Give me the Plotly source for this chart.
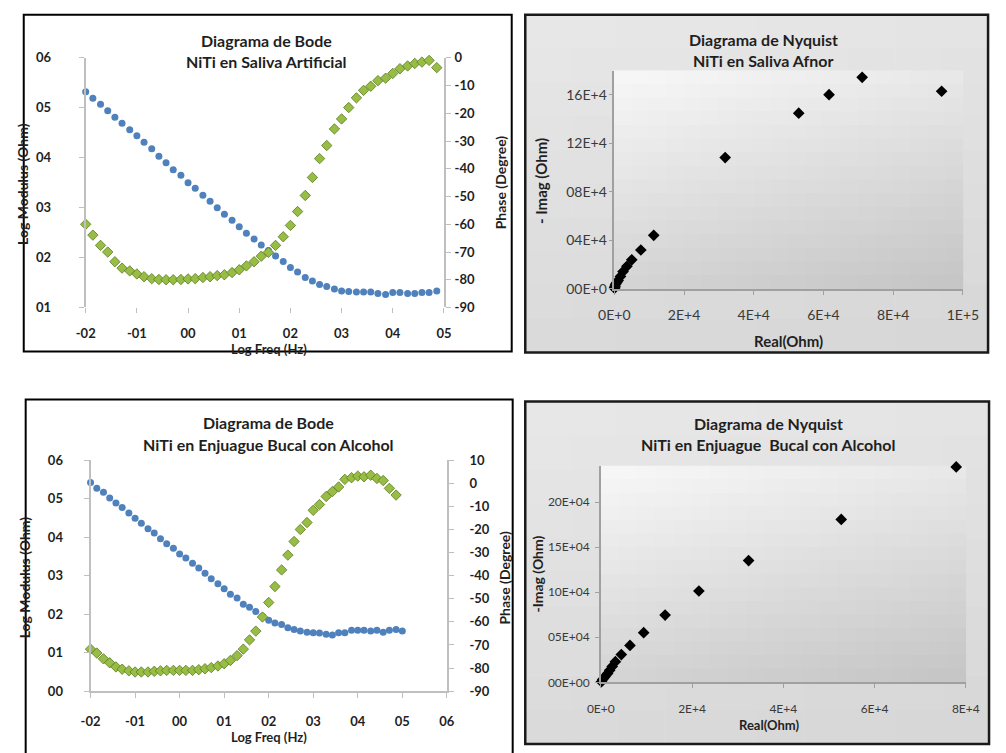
import plotly.graph_objects as go

W, H = 1006, 753


def px(x):
    return x / W


def py(y):
    return 1 - y / H


# ---------------- data ----------------
log_freq_saliva = [-2.00, -1.86, -1.71, -1.57, -1.43, -1.29, -1.14, -1.00, -0.86, -0.71,
                   -0.57, -0.43, -0.29, -0.14, 0.00, 0.14, 0.29, 0.43, 0.57, 0.71,
                   0.86, 1.00, 1.14, 1.29, 1.43, 1.57, 1.71, 1.86, 2.00, 2.14,
                   2.29, 2.43, 2.57, 2.71, 2.86, 3.00, 3.14, 3.29, 3.43, 3.57,
                   3.71, 3.86, 4.00, 4.14, 4.29, 4.43, 4.57, 4.71, 4.86]
log_mod_saliva = [5.32, 5.19, 5.07, 4.94, 4.81, 4.69, 4.56, 4.44, 4.31, 4.18,
                  4.03, 3.90, 3.76, 3.65, 3.50, 3.39, 3.25, 3.13, 3.00, 2.87,
                  2.75, 2.62, 2.49, 2.37, 2.25, 2.14, 2.03, 1.92, 1.80, 1.71,
                  1.60, 1.53, 1.46, 1.42, 1.37, 1.33, 1.32, 1.31, 1.31, 1.31,
                  1.28, 1.26, 1.30, 1.30, 1.28, 1.28, 1.30, 1.30, 1.33]
phase_saliva = [-60.0, -63.9, -67.6, -70.0, -73.5, -75.8, -76.8, -77.9, -78.9, -79.6,
                -79.9, -80.0, -80.0, -79.9, -79.7, -79.6, -79.2, -78.9, -78.5, -78.2,
                -77.4, -76.4, -75.0, -73.5, -71.5, -70.1, -67.6, -64.5, -60.4, -55.4,
                -49.6, -43.1, -36.3, -31.6, -25.6, -22.0, -17.9, -14.4, -11.7, -10.2,
                -8.2, -7.3, -5.6, -3.9, -2.9, -2.0, -1.5, -0.9, -3.5]

log_freq_alcohol = [-2.00, -1.86, -1.71, -1.57, -1.43, -1.29, -1.14, -1.00, -0.86, -0.71,
                    -0.57, -0.43, -0.29, -0.14, 0.00, 0.14, 0.29, 0.43, 0.57, 0.71,
                    0.86, 1.00, 1.14, 1.29, 1.43, 1.57, 1.71, 1.86, 2.00, 2.14,
                    2.29, 2.43, 2.57, 2.71, 2.86, 3.00, 3.14, 3.29, 3.43, 3.57,
                    3.71, 3.86, 4.00, 4.14, 4.29, 4.43, 4.57, 4.71, 4.86, 5.00]
log_mod_alcohol = [5.42, 5.27, 5.17, 5.02, 4.89, 4.77, 4.63, 4.49, 4.36, 4.22,
                   4.11, 3.96, 3.83, 3.71, 3.56, 3.46, 3.32, 3.20, 3.06, 2.92,
                   2.79, 2.66, 2.52, 2.42, 2.26, 2.18, 2.07, 1.94, 1.84, 1.77,
                   1.73, 1.65, 1.60, 1.56, 1.53, 1.52, 1.51, 1.48, 1.46, 1.52,
                   1.52, 1.58, 1.58, 1.58, 1.56, 1.58, 1.53, 1.58, 1.60, 1.56]
phase_alcohol = [-71.8, -73.5, -76.0, -77.7, -79.5, -80.5, -81.2, -81.7, -81.7, -81.7,
                 -81.4, -81.2, -81.0, -81.0, -81.0, -81.0, -81.0, -80.7, -80.3, -79.8,
                 -79.1, -78.1, -76.7, -74.6, -71.8, -67.8, -64.0, -57.9, -51.6, -44.7,
                 -37.5, -31.1, -25.2, -20.0, -17.0, -11.7, -9.2, -5.7, -3.6, -1.6,
                 1.7, 2.4, 3.1, 2.8, 3.5, 2.1, 1.2, -2.2, -5.1]

real_afnor = [93900, 71100, 61600, 52900, 31800, 11300, 7600, 5000, 3600, 2500,
              1750, 1100, 700, 360, 200, 100, 50]
imag_afnor = [163000, 174500, 160200, 144900, 108300, 44200, 32100, 24000, 18600, 14300,
              10300, 7000, 5200, 3800, 2200, 1200, 600]

real_alcohol = [77900, 52700, 32400, 21500, 14100, 9400, 6400, 4500, 3200, 2500,
                1950, 1500, 900, 420, 150]
imag_alcohol = [239000, 180800, 135100, 101400, 74700, 55100, 41000, 30800, 23000, 17700,
                13400, 9800, 6200, 3300, 800]

bode1_xticks = [-2, -1, 0, 1, 2, 3, 4, 5]
bode1_xlabels = ["-02", "-01", "00", "01", "02", "03", "04", "05"]
bode1_yticks = [1, 2, 3, 4, 5, 6]
bode1_ylabels = ["01", "02", "03", "04", "05", "06"]
bode1_pticks = [-90, -80, -70, -60, -50, -40, -30, -20, -10, 0]
bode1_plabels = ["-90", "-80", "-70", "-60", "-50", "-40", "-30", "-20", "-10", "0"]

bode2_xticks = [-2, -1, 0, 1, 2, 3, 4, 5, 6]
bode2_xlabels = ["-02", "-01", "00", "01", "02", "03", "04", "05", "06"]
bode2_yticks = [0, 1, 2, 3, 4, 5, 6]
bode2_ylabels = ["00", "01", "02", "03", "04", "05", "06"]
bode2_pticks = [-90, -80, -70, -60, -50, -40, -30, -20, -10, 0, 10]
bode2_plabels = ["-90", "-80", "-70", "-60", "-50", "-40", "-30", "-20", "-10", "0", "10"]

nyq1_xticks = [0, 20000, 40000, 60000, 80000, 100000]
nyq1_xlabels = ["0E+0", "2E+4", "4E+4", "6E+4", "8E+4", "1E+5"]
nyq1_yticks = [0, 40000, 80000, 120000, 160000]
nyq1_ylabels = ["00E+0", "04E+4", "08E+4", "12E+4", "16E+4"]

nyq2_xticks = [0, 20000, 40000, 60000, 80000]
nyq2_xlabels = ["0E+0", "2E+4", "4E+4", "6E+4", "8E+4"]
nyq2_yticks = [0, 50000, 100000, 150000, 200000]
nyq2_ylabels = ["00E+00", "05E+04", "10E+04", "15E+04", "20E+04"]

# ---------------- style ----------------
FONT = "Lato, 'Open Sans', sans-serif"
TXT = "#1f1f1f"
BLUE = "#4f81bd"
GREEN = "#98bd45"
GREEN_EDGE = "#5a7a20"
AXIS_GRAY = "#bfbfbf"

fig = go.Figure()

fig.add_trace(go.Scatter(x=log_freq_saliva, y=log_mod_saliva, mode="markers",
                         marker=dict(symbol="circle", size=7, color=BLUE),
                         xaxis="x", yaxis="y", cliponaxis=False, showlegend=False))
fig.add_trace(go.Scatter(x=log_freq_saliva, y=phase_saliva, mode="markers",
                         marker=dict(symbol="diamond", size=8, color=GREEN,
                                     line=dict(color=GREEN_EDGE, width=0.8)),
                         xaxis="x", yaxis="y2", cliponaxis=False, showlegend=False))
fig.add_trace(go.Scatter(x=real_afnor, y=imag_afnor, mode="markers",
                         marker=dict(symbol="diamond", size=9, color="#000000"),
                         xaxis="x2", yaxis="y3", cliponaxis=False, showlegend=False))
fig.add_trace(go.Scatter(x=log_freq_alcohol, y=log_mod_alcohol, mode="markers",
                         marker=dict(symbol="circle", size=7, color=BLUE),
                         xaxis="x3", yaxis="y4", cliponaxis=False, showlegend=False))
fig.add_trace(go.Scatter(x=log_freq_alcohol[:len(phase_alcohol)], y=phase_alcohol, mode="markers",
                         marker=dict(symbol="diamond", size=8, color=GREEN,
                                     line=dict(color=GREEN_EDGE, width=0.8)),
                         xaxis="x3", yaxis="y5", cliponaxis=False, showlegend=False))
fig.add_trace(go.Scatter(x=real_alcohol, y=imag_alcohol, mode="markers",
                         marker=dict(symbol="diamond", size=9, color="#000000"),
                         xaxis="x4", yaxis="y6", cliponaxis=False, showlegend=False))

bold_tick = dict(family=FONT, size=13, color=TXT, weight="bold")
reg_tick = dict(family=FONT, size=12, color="#3a3a3a")


def ax(**kw):
    base = dict(showgrid=False, zeroline=False, fixedrange=True, ticks="outside",
                ticklen=5, tickwidth=1, tickcolor=AXIS_GRAY, tickmode="array")
    base.update(kw)
    return base


layout_axes = dict(
    xaxis=ax(domain=[px(72), px(442)], range=[-2, 5], anchor="y",
             tickvals=bode1_xticks, ticktext=bode1_xlabels, showline=False,
             tickfont=bold_tick, ticklabelstandoff=9),
    yaxis=ax(domain=[py(306), py(51)], range=[1, 6], anchor="x",
             tickvals=bode1_yticks, ticktext=bode1_ylabels, showline=True,
             linecolor=AXIS_GRAY, linewidth=2, tickfont=bold_tick, ticklabelstandoff=25),
    yaxis2=ax(overlaying="y", side="right", anchor="x", range=[-90, 0],
              tickvals=bode1_pticks, ticktext=bode1_plabels, showline=True,
              linecolor=AXIS_GRAY, linewidth=2, tickfont=bold_tick, ticklabelstandoff=1),
    xaxis2=ax(domain=[px(618), px(978)], range=[0, 100000], anchor="y3",
              tickvals=nyq1_xticks, ticktext=nyq1_xlabels, showline=True,
              linecolor="#a0a0a0", linewidth=1.5, ticklen=4, tickcolor="#a0a0a0",
              tickfont=dict(reg_tick, size=14), ticklabelstandoff=9),
    yaxis3=ax(domain=[py(287), py(64)], range=[0, 180000], anchor="x2",
              tickvals=nyq1_yticks, ticktext=nyq1_ylabels, showline=True,
              linecolor="#a0a0a0", linewidth=1.5, ticklen=4, tickcolor="#a0a0a0",
              tickfont=dict(reg_tick, size=14), ticklabelstandoff=-1),
    xaxis3=ax(domain=[px(77), px(445)], range=[-2, 6], anchor="y4",
              tickvals=bode2_xticks, ticktext=bode2_xlabels, showline=True,
              linecolor=AXIS_GRAY, linewidth=2, tickfont=bold_tick, ticklabelstandoff=12),
    yaxis4=ax(domain=[py(698), py(462)], range=[0, 6], anchor="x3",
              tickvals=bode2_yticks, ticktext=bode2_ylabels, showline=True,
              linecolor=AXIS_GRAY, linewidth=2, tickfont=bold_tick, ticklabelstandoff=18),
    yaxis5=ax(overlaying="y4", side="right", anchor="x3", range=[-90, 10],
              tickvals=bode2_pticks, ticktext=bode2_plabels, showline=True,
              linecolor=AXIS_GRAY, linewidth=2, tickfont=bold_tick, ticklabelstandoff=13),
    xaxis4=ax(domain=[px(604), px(981)], range=[0, 80000], anchor="y6",
              tickvals=nyq2_xticks, ticktext=nyq2_xlabels, showline=True,
              linecolor="#a0a0a0", linewidth=1.5, ticklen=4, tickcolor="#a0a0a0",
              tickfont=reg_tick, ticklabelstandoff=10),
    yaxis6=ax(domain=[py(689), py(468)], range=[0, 240000], anchor="x4",
              tickvals=nyq2_yticks, ticktext=nyq2_ylabels, showline=True,
              linecolor="#a0a0a0", linewidth=1.5, ticklen=4, tickcolor="#a0a0a0",
              tickfont=reg_tick, ticklabelstandoff=3),
)

# ---------------- shapes: panels and gradients ----------------
shapes = []


def rect(x0, y0, x1, y1, fill=None, line_color=None, lw=0, layer="below"):
    d = dict(type="rect", xref="paper", yref="paper",
             x0=px(x0), x1=px(x1), y0=py(y1), y1=py(y0), layer=layer,
             line=dict(width=lw, color=line_color or "rgba(0,0,0,0)"))
    d["fillcolor"] = fill if fill else "rgba(0,0,0,0)"
    return d


def gradient(x0, y0, x1, y1, top, bottom, wx=0.3, nx=20, ny=16):
    out = []
    cw = (x1 - x0) / nx
    ch = (y1 - y0) / ny
    for i in range(nx):
        for j in range(ny):
            u = (i + 0.5) / nx
            v = (j + 0.5) / ny
            t = wx * u + (1 - wx) * v
            g = round(top - t * (top - bottom))
            c = f"rgb({g},{g},{g})"
            out.append(rect(x0 + i * cw - 0.3, y0 + j * ch - 0.3,
                            x0 + (i + 1) * cw + 0.3, y0 + (j + 1) * ch + 0.3, fill=c))
    return out


# Nyquist panels backgrounds
shapes += gradient(526, 7, 1004, 352, 232, 214, wx=0.2, nx=10, ny=10)
shapes += gradient(526, 402, 1005, 752, 232, 214, wx=0.2, nx=10, ny=10)
shapes += gradient(618, 64, 978, 287, 248, 196)
shapes += gradient(604, 468, 981, 689, 248, 196)

# borders
shapes.append(rect(8, 7, 512, 351, line_color="#000000", lw=2, layer="above"))
shapes.append(rect(526, 7, 1004, 352, line_color="#1a1a1a", lw=2.5, layer="above"))
shapes.append(rect(10, 400, 513, 770, line_color="#000000", lw=2, layer="above"))
shapes.append(rect(526, 402, 1005, 752, line_color="#1a1a1a", lw=2.5, layer="above"))

# ---------------- annotations ----------------
annotations = []


def txt(x, y, s, size=13, bold=True, angle=0, color=TXT):
    annotations.append(dict(x=px(x), y=py(y), xref="paper", yref="paper", text=s,
                            showarrow=False, textangle=angle, xanchor="center",
                            yanchor="middle",
                            font=dict(family=FONT, size=size, color=color,
                                      weight="bold" if bold else "normal")))


# Bode top
txt(259, 33, "Diagrama de Bode", 16)
txt(259, 55, "NiTi en Saliva Artificial", 16)
txt(6, 180, "Log Modulus (Ohm)", 14, angle=-90)
txt(500, 178, "Phase (Degree)", 14, angle=-90)
txt(261, 348, "Log Freq (Hz)", 13)

# Nyquist top
txt(772, 32, "Diagrama de Nyquist", 16)
txt(772, 54, "NiTi en Saliva Afnor", 16)
txt(543, 177, "- Imag (Ohm)", 15, angle=-90)
txt(798, 340, "Real(Ohm)", 15)

# Bode bottom
txt(261, 424, "Diagrama de Bode", 16)
txt(261, 446, "NiTi en Enjuague Bucal con Alcohol", 16)
txt(9, 582, "Log Modulus (Ohm)", 14, angle=-90)
txt(505, 582, "Phase (Degree)", 14, angle=-90)
txt(261, 745, "Log Freq (Hz)", 13)

# Nyquist bottom
txt(777, 425, "Diagrama de Nyquist", 16)
txt(777, 446, "NiTi en Enjuague  Bucal con Alcohol", 16)
txt(539, 578, "-Imag (Ohm)", 14, angle=-90)
txt(778, 733, "Real(Ohm)", 13)

fig.update_layout(
    width=W, height=H, autosize=False,
    margin=dict(l=0, r=0, t=0, b=0, pad=0),
    paper_bgcolor="#ffffff", plot_bgcolor="rgba(0,0,0,0)",
    showlegend=False, shapes=shapes, annotations=annotations,
    **layout_axes,
)

fig.write_html("out.html", config={"displayModeBar": False})
